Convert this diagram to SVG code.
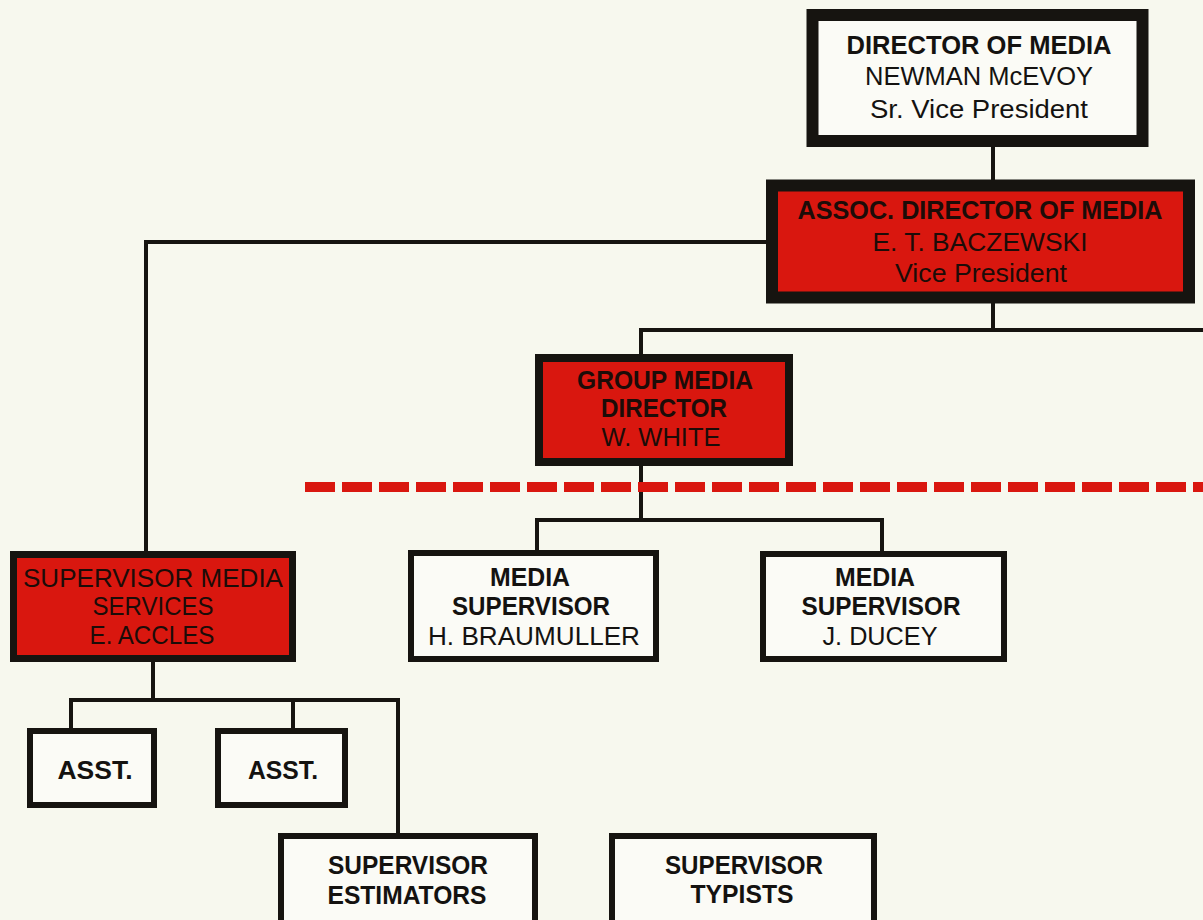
<svg xmlns="http://www.w3.org/2000/svg" width="1203" height="920" viewBox="0 0 1203 920">
<style>
.bg{fill:#f7f8ee}
.red{fill:#d9170f;stroke:#161410}
.wht{fill:#fbfbf6;stroke:#161410}
.ln{fill:none;stroke:#161410;stroke-width:4;stroke-linecap:square}
.dash{fill:none;stroke:#d9170f;stroke-width:10;stroke-dasharray:30 7}
text{font-family:"Liberation Sans",Arial,sans-serif;font-size:26px;text-anchor:middle;fill:#141210}
.b{font-weight:bold}
.rt{fill:#1c0c08}
</style>
<rect class="bg" width="1203" height="920"/>
<g id="connectors">
<path class="ln" d="M993 146V180"/>
<path class="ln" d="M766 242H146V552"/>
<path class="ln" d="M993 303V330"/>
<path class="ln" d="M641 355V330H1203"/>
<path class="ln" d="M641 466V520"/>
<path class="ln" d="M537 552V520H882V552"/>
<path class="ln" d="M153 662V700"/>
<path class="ln" d="M71 730V700H398V835"/>
<path class="ln" d="M293 700V730"/>
<path class="dash" d="M305 487H1203"/>
</g>
<g id="director">
<rect class="wht" x="812.5" y="15" width="330" height="126" stroke-width="12"/>
<text class="b" x="979" y="54" textLength="265" lengthAdjust="spacingAndGlyphs">DIRECTOR OF MEDIA</text>
<text x="979" y="85" textLength="228" lengthAdjust="spacingAndGlyphs">NEWMAN McEVOY</text>
<text x="979" y="118" textLength="218" lengthAdjust="spacingAndGlyphs">Sr. Vice President</text>
</g>
<g id="assoc">
<rect class="red" x="772" y="185.5" width="417" height="112" stroke-width="12"/>
<text class="b rt" x="980" y="219" textLength="365" lengthAdjust="spacingAndGlyphs">ASSOC. DIRECTOR OF MEDIA</text>
<text class="rt" x="980" y="251" textLength="215" lengthAdjust="spacingAndGlyphs">E. T. BACZEWSKI</text>
<text class="rt" x="981" y="282" textLength="172" lengthAdjust="spacingAndGlyphs">Vice President</text>
</g>
<g id="group-media">
<rect class="red" x="539" y="358" width="250" height="104" stroke-width="8"/>
<text class="b rt" x="665" y="389" textLength="176" lengthAdjust="spacingAndGlyphs">GROUP MEDIA</text>
<text class="b rt" x="664" y="417" textLength="126" lengthAdjust="spacingAndGlyphs">DIRECTOR</text>
<text class="rt" x="661" y="446" textLength="119" lengthAdjust="spacingAndGlyphs">W. WHITE</text>
</g>
<g id="sup-media-services">
<rect class="red" x="13.5" y="554.5" width="279" height="104" stroke-width="7"/>
<text class="rt" x="153" y="587" textLength="260" lengthAdjust="spacingAndGlyphs">SUPERVISOR MEDIA</text>
<text class="rt" x="153" y="615" textLength="121" lengthAdjust="spacingAndGlyphs">SERVICES</text>
<text class="rt" x="152" y="644" textLength="125" lengthAdjust="spacingAndGlyphs">E. ACCLES</text>
</g>
<g id="media-sup-braumuller">
<rect class="wht" x="411" y="553" width="245" height="106" stroke-width="6"/>
<text class="b" x="530" y="586" textLength="80" lengthAdjust="spacingAndGlyphs">MEDIA</text>
<text class="b" x="531" y="615" textLength="158" lengthAdjust="spacingAndGlyphs">SUPERVISOR</text>
<text x="534" y="645" textLength="212" lengthAdjust="spacingAndGlyphs">H. BRAUMULLER</text>
</g>
<g id="media-sup-ducey">
<rect class="wht" x="763" y="554" width="241" height="105" stroke-width="6"/>
<text class="b" x="875" y="586" textLength="80" lengthAdjust="spacingAndGlyphs">MEDIA</text>
<text class="b" x="881" y="615" textLength="159" lengthAdjust="spacingAndGlyphs">SUPERVISOR</text>
<text x="880" y="645" textLength="115" lengthAdjust="spacingAndGlyphs">J. DUCEY</text>
</g>
<g id="asst-1">
<rect class="wht" x="30" y="731" width="124" height="74" stroke-width="6"/>
<text class="b" x="95" y="779" textLength="75" lengthAdjust="spacingAndGlyphs">ASST.</text>
</g>
<g id="asst-2">
<rect class="wht" x="218" y="731" width="127" height="74" stroke-width="6"/>
<text class="b" x="283" y="779" textLength="70" lengthAdjust="spacingAndGlyphs">ASST.</text>
</g>
<g id="sup-estimators">
<rect class="wht" x="281" y="836" width="254" height="100" stroke-width="6"/>
<text class="b" x="408" y="874" textLength="160" lengthAdjust="spacingAndGlyphs">SUPERVISOR</text>
<text class="b" x="407" y="904" textLength="159" lengthAdjust="spacingAndGlyphs">ESTIMATORS</text>
</g>
<g id="sup-typists">
<rect class="wht" x="612" y="836" width="262" height="100" stroke-width="6"/>
<text class="b" x="744" y="874" textLength="158" lengthAdjust="spacingAndGlyphs">SUPERVISOR</text>
<text class="b" x="742" y="903" textLength="103" lengthAdjust="spacingAndGlyphs">TYPISTS</text>
</g>
</svg>
